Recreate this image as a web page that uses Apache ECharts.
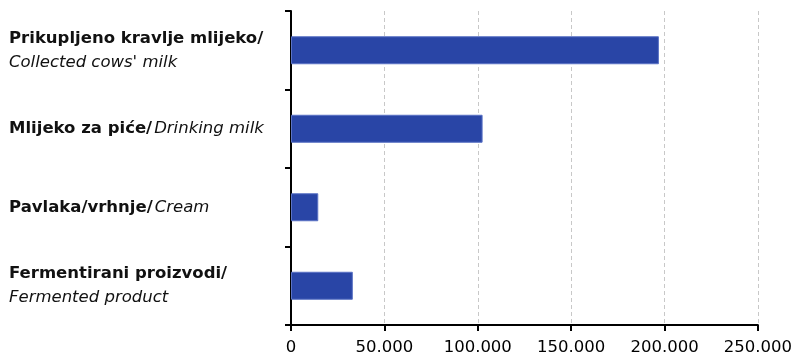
<!DOCTYPE html>
<html>
<head>
<meta charset="utf-8">
<script src="https://cdn.jsdelivr.net/npm/echarts@6/dist/echarts.min.js"></script>
<style>
  html, body { margin: 0; padding: 0; background: #fff; }
  #chart { width: 795px; height: 356px; }
</style>
</head>
<body>
<div id="chart"></div>
<script>
// categories: bold part, italic part, and whether the italic part goes on its own line
const labelBold = ["Prikupljeno kravlje mlijeko/", "Mlijeko za piće/", "Pavlaka/vrhnje/", "Fermentirani proizvodi/"];
const labelItalic = ["Collected cows' milk", "Drinking milk", "Cream", "Fermented product"];
const labelBreak = [true, false, false, true];
const values = [197000, 102600, 14600, 33100];

const categories = labelBold.map((b, i) =>
  "{b|" + b + "}" + (labelBreak[i] ? "\n{i|" : "{j|") + labelItalic[i] + "}"
);

const chart = echarts.init(document.getElementById("chart"), null, {renderer: "canvas"});

const font = "Verdana, 'DejaVu Sans', sans-serif";
const italic = {fontFamily: font, fontStyle: "italic", fontSize: 16.5, color: "#111", lineHeight: 24};

chart.setOption({
  animation: false,
  grid: {left: 291, right: 36, top: 11, bottom: 31, containLabel: false},
  xAxis: {
    type: "value",
    min: 0,
    max: 250000,
    interval: 50000,
    axisLine: {show: true, lineStyle: {color: "#000", width: 2}},
    axisTick: {show: true, length: 6, lineStyle: {color: "#000", width: 2}},
    splitLine: {show: true, lineStyle: {color: "#c8c8c8", type: [4, 3], width: 1}},
    axisLabel: {
      color: "#000",
      fontFamily: font,
      fontSize: 16.5,
      margin: 14,
      formatter: (v) => v.toLocaleString("de-DE")
    }
  },
  yAxis: {
    type: "category",
    inverse: true,
    data: categories,
    axisLine: {show: true, lineStyle: {color: "#000", width: 2}},
    axisTick: {show: true, length: 6, lineStyle: {color: "#000", width: 2}},
    axisLabel: {
      align: "left",
      margin: 282,
      lineHeight: 24,
      rich: {
        b: {fontFamily: font, fontWeight: "bold", fontSize: 16.5, color: "#111", lineHeight: 24},
        i: italic,
        j: Object.assign({}, italic, {padding: [0, 0, 0, 2]})
      }
    }
  },
  series: [{
    type: "bar",
    data: values,
    barWidth: 28,
    itemStyle: {color: "#2945a6", borderColor: "#5a72c4", borderWidth: 1}
  }]
});
</script>
</body>
</html>
